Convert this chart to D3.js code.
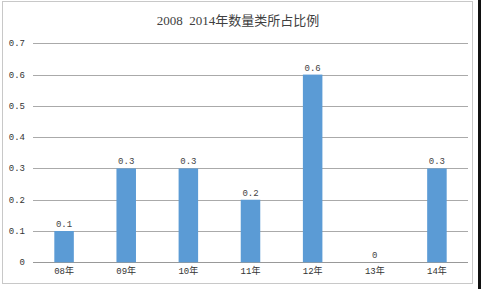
<!DOCTYPE html>
<html><head><meta charset="utf-8">
<script src="https://cdn.jsdelivr.net/npm/d3@7"></script>
<style>
html,body{margin:0;padding:0;background:#fff;}
svg{display:block;}
</style></head>
<body>
<script>
const title = "2008  2014年数量类所占比例";
const categories = ["08年","09年","10年","11年","12年","13年","14年"];
const values = [0.1, 0.3, 0.3, 0.2, 0.6, 0, 0.3];
const valueLabels = ["0.1","0.3","0.3","0.2","0.6","0","0.3"];
const yTicks = [0,0.1,0.2,0.3,0.4,0.5,0.6,0.7];
const yTickLabels = ["0","0.1","0.2","0.3","0.4","0.5","0.6","0.7"];

const W = 481, H = 289;
const svg = d3.select("body").append("svg").attr("width", W).attr("height", H);

// outer frame
svg.append("rect").attr("x",2.5).attr("y",1.5).attr("width",470).attr("height",282)
  .attr("fill","#fff").attr("stroke","#c8c8c8").attr("stroke-width",1);
svg.append("rect").attr("x",478).attr("y",0).attr("width",3).attr("height",H).attr("fill","#111");

const x = d3.scaleBand().domain(categories).range([33,468]).paddingInner(0.686).paddingOuter(0.343);
const y = d3.scaleLinear().domain([0,0.7]).range([262.3,43.3]);

const mono = "'Liberation Mono','DejaVu Sans Mono','Noto Sans CJK SC',monospace";

// gridlines
svg.append("g").selectAll("line").data(yTicks).join("line")
  .attr("x1",33).attr("x2",468)
  .attr("y1",d=>Math.round(y(d))+0.5).attr("y2",d=>Math.round(y(d))+0.5)
  .attr("stroke",(d)=> d===0 ? "#999" : "#aaa").attr("stroke-width",1);

// y labels
svg.append("g").selectAll("text").data(yTicks).join("text")
  .attr("x",25).attr("y",d=>y(d)+3)
  .attr("text-anchor","end").attr("font-family",mono).attr("font-size","9px").attr("fill","#333")
  .text((d,i)=>yTickLabels[i]);

// bars
svg.append("g").selectAll("rect").data(values).join("rect")
  .attr("x",(d,i)=>x(categories[i])).attr("width",x.bandwidth())
  .attr("y",d=>y(d)).attr("height",d=>y(0)-y(d))
  .attr("fill","#5b9bd5");

// value labels
svg.append("g").selectAll("text").data(values).join("text")
  .attr("x",(d,i)=>x(categories[i])+x.bandwidth()/2).attr("y",d=>y(d)-4)
  .attr("text-anchor","middle").attr("font-family",mono).attr("font-size","9px").attr("fill","#444")
  .text((d,i)=>valueLabels[i]);

// x labels
svg.append("g").selectAll("text").data(categories).join("text")
  .attr("x",d=>x(d)+x.bandwidth()/2).attr("y",274)
  .attr("text-anchor","middle").attr("font-family",mono).attr("font-size","9px").attr("fill","#333")
  .text(d=>d);

// title
svg.append("text").attr("x",238).attr("y",25)
  .attr("text-anchor","middle")
  .style("white-space","pre")
  .attr("font-family","'Liberation Serif','Noto Sans CJK SC',serif")
  .attr("font-size","13px").attr("fill","#404040")
  .text(title);
</script>
</body></html>
